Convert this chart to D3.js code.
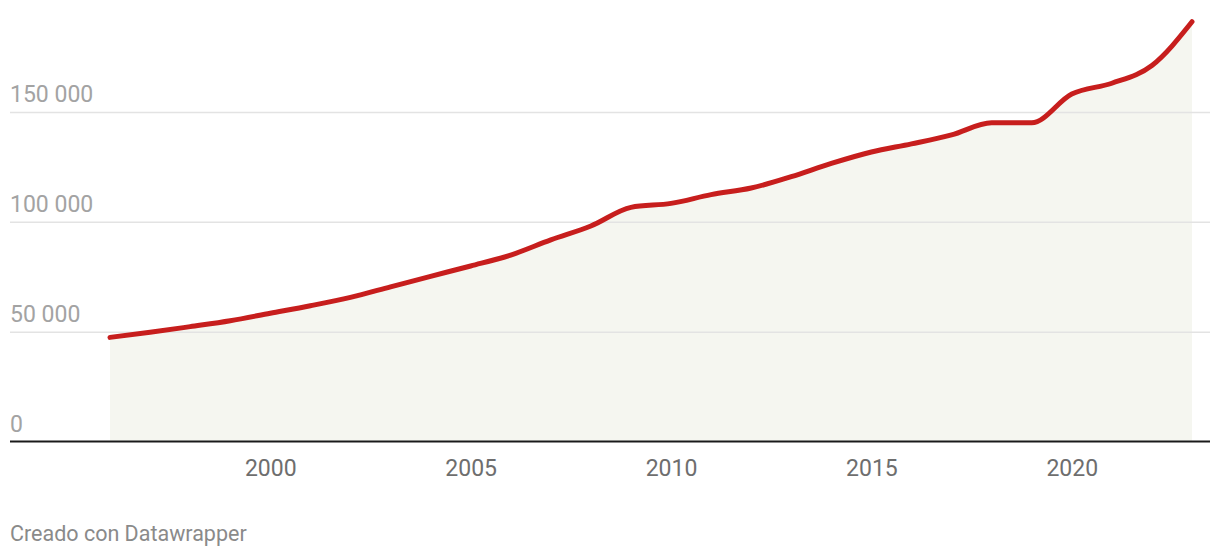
<!DOCTYPE html>
<html>
<head>
<meta charset="utf-8">
<script src="https://cdn.jsdelivr.net/npm/d3@7"></script>
<style>
  html, body { margin: 0; padding: 0; background: #fff; }
  svg { display: block; font-family: Roboto, "Noto Sans", sans-serif; }
</style>
</head>
<body>
<svg id="chart" width="1220" height="558"></svg>
<script>
const years = [1996,1997,1998,1999,2000,2001,2002,2003,2004,2005,2006,2007,2008,2009,2010,2011,2012,2013,2014,2015,2016,2017,2018,2019,2020,2021,2022,2023];
const values = [47400,49700,52300,55000,58400,61800,65600,70400,75200,79900,84900,91800,98100,106600,108400,112400,115400,120600,126600,131800,135500,139600,145100,145100,158200,163100,171200,191100];
const yTicks = [0,50000,100000,150000];
const yTickLabels = ["0","50 000","100 000","150 000"];
const xTicks = [2000,2005,2010,2015,2020];
const footer = "Creado con Datawrapper";

const svg = d3.select("#chart");
const x = d3.scaleLinear().domain([1996, 2023]).range([110, 1192]);
const y = d3.scaleLinear().domain([0, 200000]).range([441.5, 2.2]);
const gridLeft = 10, gridRight = 1210;

const data = years.map((yr, i) => ({ yr, v: values[i] }));

// area
svg.append("path")
  .datum(data)
  .attr("fill", "#f5f6f0")
  .attr("d", d3.area().curve(d3.curveMonotoneX).x(d => x(d.yr)).y0(y(0)).y1(d => y(d.v)));

// gridlines
const gy = svg.append("g").attr("transform", `translate(${gridRight},0)`);
gy.call(d3.axisRight(y).tickValues(yTicks.filter(t => t > 0)).tickSize(-(gridRight - gridLeft)).tickFormat(""));
gy.select(".domain").remove();
gy.selectAll(".tick line").attr("stroke", "#e3e3e3").attr("stroke-width", 1.5);

// line
svg.append("path")
  .datum(data)
  .attr("fill", "none")
  .attr("stroke", "#c71e1d")
  .attr("stroke-width", 5)
  .attr("stroke-linecap", "round")
  .attr("stroke-linejoin", "round")
  .attr("d", d3.line().curve(d3.curveMonotoneX).x(d => x(d.yr)).y(d => y(d.v)));

// y labels
svg.append("g").selectAll("text")
  .data(yTicks)
  .join("text")
  .attr("x", gridLeft)
  .attr("y", d => y(d) - 10)
  .attr("fill", "#a3a3a3")
  .attr("font-size", 23)
  .text((d, i) => yTickLabels[i]);

// baseline
svg.append("line")
  .attr("x1", gridLeft).attr("x2", gridRight)
  .attr("y1", y(0)).attr("y2", y(0))
  .attr("stroke", "#1a1a1a").attr("stroke-width", 2);

// x axis labels
const gx = svg.append("g").attr("transform", `translate(0,${y(0)})`);
gx.call(d3.axisBottom(x).tickValues(xTicks).tickSize(0).tickPadding(0).tickFormat(d3.format("d")));
gx.select(".domain").remove();
gx.selectAll(".tick text")
  .attr("font-family", "Roboto, sans-serif")
  .attr("font-size", 23)
  .attr("fill", "#6e6e6e")
  .attr("dy", null)
  .attr("y", 34.5);

// footer
svg.append("text")
  .attr("x", 10).attr("y", 541)
  .attr("font-size", 21.5)
  .attr("fill", "#8a8a8a")
  .text(footer);
</script>
</body>
</html>
